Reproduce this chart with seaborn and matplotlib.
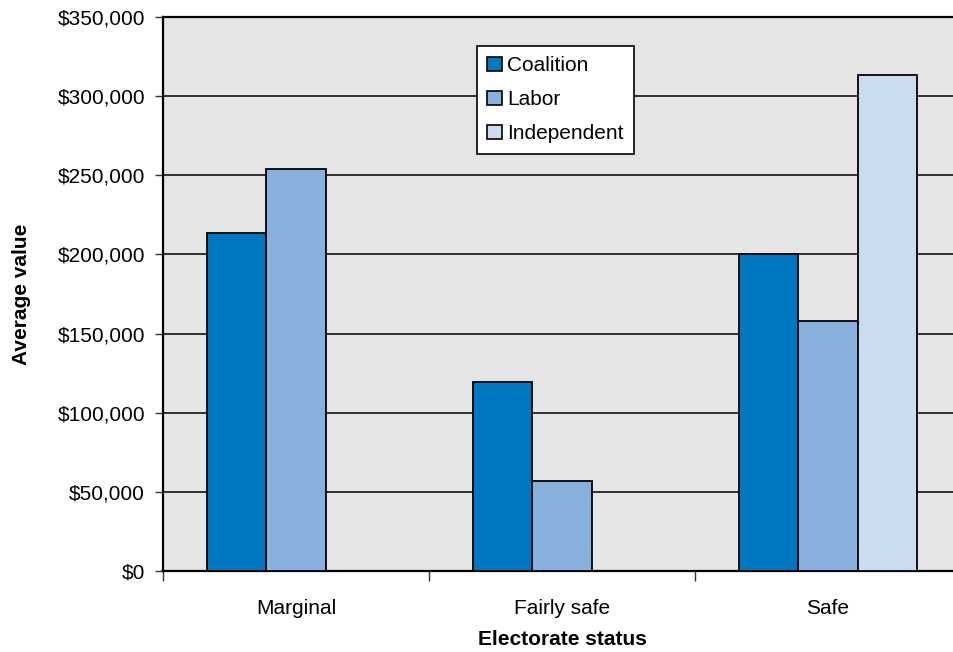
import pandas as pd
import matplotlib
matplotlib.use("Agg")
import matplotlib.pyplot as plt
import seaborn as sns
from matplotlib.ticker import FuncFormatter, FixedLocator

# data
statuses = ["Marginal", "Fairly safe", "Safe"]
parties = ["Coalition", "Labor", "Independent"]
coalition = [213500, 119500, 200000]
labor = [254000, 57000, 158000]
independent = [None, None, 313500]

colors = ["#0077c0", "#88b0dc", "#ccdcf0"]

rows = []
for party, vals in zip(parties, [coalition, labor, independent]):
    for s, v in zip(statuses, vals):
        if v is not None:
            rows.append({"status": s, "party": party, "value": v})
df = pd.DataFrame(rows)

sns.set_style("white")
plt.rcParams["font.family"] = ["Liberation Sans", "DejaVu Sans"]
plt.rcParams["text.color"] = "black"
plt.rcParams["axes.labelcolor"] = "black"
plt.rcParams["xtick.color"] = "black"
plt.rcParams["ytick.color"] = "black"

fig = plt.figure(figsize=(9.54, 6.52), dpi=100)
ax = fig.add_axes([163 / 954, 81 / 652, 798 / 954, 554 / 652])
ax.set_facecolor("#e5e5e5")

sns.barplot(data=df, x="status", y="value", hue="party", order=statuses,
            hue_order=parties, palette=colors, width=0.667, saturation=1,
            edgecolor="black", linewidth=1.3, errorbar=None, ax=ax, zorder=3)

ax.set_ylim(0, 350000)
ax.set_xlim(-0.5, 2.5)
ax.yaxis.set_major_locator(FixedLocator(range(0, 350001, 50000)))
ax.yaxis.set_major_formatter(FuncFormatter(lambda v, p: f"${v:,.0f}"))
ax.yaxis.grid(True, color="black", linewidth=1.1, zorder=1)
ax.set_axisbelow(True)

# category boundaries carry the ticks, labels sit in between
ax.set_xticks([-0.5, 0.5, 1.5, 2.5])
ax.set_xticklabels([])
ax.set_xticks([0, 1, 2], minor=True)
ax.set_xticklabels(statuses, minor=True, fontsize=15)
ax.tick_params(axis="x", which="major", direction="out", length=7, width=1, color="#333333", bottom=True)
ax.tick_params(axis="x", which="minor", length=0, pad=20)
ax.tick_params(axis="y", direction="out", length=6, width=1, color="#333333", left=True, labelsize=15, pad=7)

for side in ["left", "bottom", "top"]:
    ax.spines[side].set_visible(True)
    ax.spines[side].set_color("black")
    ax.spines[side].set_linewidth(1.6)
ax.spines["right"].set_visible(False)

ax.set_xlabel("Electorate status", fontsize=15, fontweight="bold", labelpad=9)
ax.set_ylabel("Average value", fontsize=15, fontweight="bold", labelpad=19)

leg = ax.legend(loc="upper left", bbox_to_anchor=(0.3935, 0.9477), fontsize=15,
                frameon=True, fancybox=False, edgecolor="black", framealpha=1,
                handlelength=0.7, handleheight=0.7, handletextpad=0.25,
                labelspacing=0.72, borderpad=0.5, borderaxespad=0)
leg.get_frame().set_linewidth(1.2)
for h in leg.legend_handles:
    h.set_edgecolor("black")
    h.set_linewidth(1.2)

fig.savefig("out.png", dpi=100)
